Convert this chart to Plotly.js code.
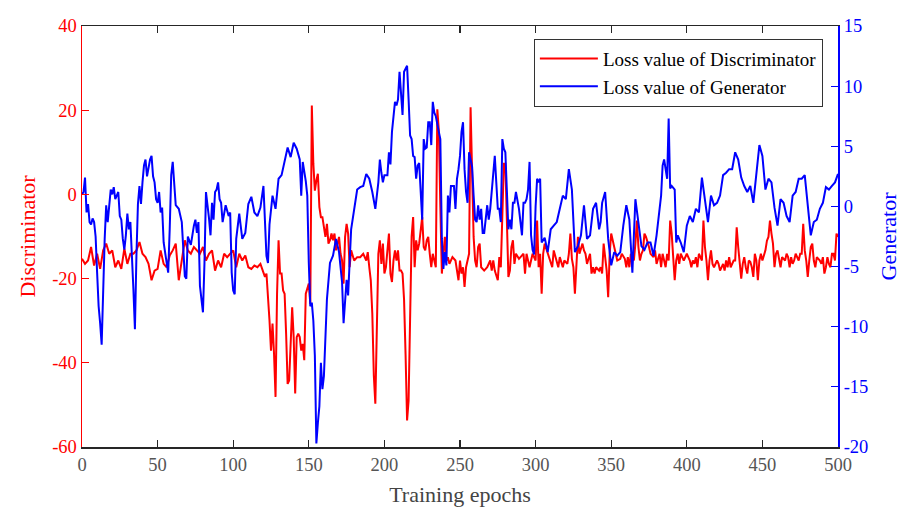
<!DOCTYPE html>
<html>
<head>
<meta charset="utf-8">
<script src="https://cdn.plot.ly/plotly-3.0.1.min.js"></script>
<style>html,body{margin:0;padding:0;background:#fff;}#chart{width:902px;height:508px;}</style>
</head>
<body>
<div id="chart"></div>
<script>
// Discriminator loss: [epoch, value]
const discA = [[0,-15.3],[2,-16.5],[4,-15.7],[6,-12.5],[8,-16.9],[10,-14.1],[12,-17.7],[14,-13.3],[16,-11.7],[18,-14.1],[20,-13.3],[22,-17.3],[24,-15.7],[26,-17.7],[28,-12.9],[30,-16.5],[32,-14.1],[34,-14.1],[36,-13.3],[38,-11.3],[40,-14.1],[42,-14.9],[44,-16.5],[46,-20.4],[48,-18.1],[50,-17.7],[52,-13.3],[54,-16.5],[56,-17.3],[58,-14.5],[60,-13.3],[62,-11.7],[64,-20.4],[66,-15.7],[68,-10.9],[70,-13.3],[72,-14.1],[74,-12.5],[76,-13.3],[78,-14.1],[80,-12.5],[82,-15.7],[84,-14.1],[86,-13.3],[88,-18.1],[90,-15.7],[92,-17.3],[94,-14.1],[96,-14.9],[98,-14.1],[100,-13.3],[102,-17.3],[104,-14.1]];
const discB = [[106,-15.7],[108,-14.5],[110,-17.3],[112,-17.7],[114,-16.9],[116,-17.3],[118,-16.5],[120,-18.8],[121,-19.6],[122,-18.8],[123,-23.6],[124,-29.9],[125,-37.1],[126,-30.7],[127,-37.8],[128,-48.1],[129,-23.6],[130,-10.9],[131,-18.8],[132,-18.8],[133,-22.8],[134,-23.6],[135,-33.1],[136,-45.0],[137,-44.2],[138,-33.1],[139,-26.8],[140,-33.9],[141,-47.3],[142,-33.9],[143,-33.1],[144,-33.9],[145,-37.1],[146,-35.5],[147,-39.4],[148,-23.6],[150,-21.2],[151,-26.0],[152,21.1],[153,7.3],[154,0.9],[155,3.3],[156,4.9],[157,-3.0],[158,-5.4],[159,-5.4],[160,-7.8],[161,-10.1],[162,-7.0],[163,-11.7],[164,-10.9],[165,-9.3],[166,-10.9],[167,-9.3],[168,-13.3],[170,-10.1],[171,-14.1],[172,-15.7],[173,-21.2],[174,-10.1],[175,-7.0],[176,-9.3],[177,-17.3],[178,-13.3],[180,-15.7],[182,-14.9],[184,-14.9],[186,-14.1],[188,-15.7],[189,-13.7],[190,-17.3],[191,-20.4],[192,-28.3],[193,-43.0],[194,-49.7],[195,-33.0],[196,-14.1],[197,-10.9],[198,-16.5],[199,-11.7],[200,-18.8],[201,-17.3],[202,-13.3],[203,-9.3],[204,-18.8],[205,-20.8],[206,-15.7],[207,-13.3],[208,-15.7],[209,-13.3],[210,-18.1],[211,-18.1],[212,-18.8],[213,-25.0],[214,-38.0],[215,-53.7],[216,-49.0],[217,-30.0],[218,-10.0],[219,-5.4],[220,-17.3],[221,-10.9],[222,-13.3],[223,-11.7],[224,-8.0],[225,-5.4],[226,-12.5],[227,-13.3],[228,-10.9],[229,-10.1],[230,-14.1],[231,-17.3],[232,-14.1],[233,-15.7],[234,-17.3],[235,20.2],[236,15.2],[237,-3.0],[238,-18.8],[239,-14.1],[240,-10.1],[241,-15.7],[242,-14.9],[243,-16.5],[245,-14.9],[247,-15.7],[249,-20.4],[250,-15.7],[251,-18.8],[252,-17.3],[253,-22.0],[254,-17.3],[256,-14.1],[257,20.7]];
const discC = [[258,1.7],[259,-10.1],[260,-15.7],[261,-17.3],[262,-12.5],[263,-11.7],[264,-17.3],[266,-18.1],[268,-17.3],[270,-15.7],[271,-18.1],[272,-15.7],[273,-18.1],[275,-20.4],[276,-14.9],[277,-17.3],[278,-5.0],[279,7.3],[280,7.3],[281,-6.2],[282,-19.6],[283,-18.1],[284,-12.5],[285,-10.9],[286,-16.5],[287,-14.1],[289,-15.3],[291,-14.5],[292,-14.1],[293,-18.8],[294,-14.1],[295,-15.7],[296,-17.3],[297,-15.7],[298,-14.1],[300,-15.7],[301,-6.2],[302,-17.3],[303,-14.1],[304,-23.6],[305,-14.1],[306,-11.7],[308,-14.1],[310,-16.5],[311,-17.3],[312,-13.3],[314,-15.7],[315,-17.3],[316,-14.9],[318,-17.3],[319,-15.7],[321,-16.5],[322,-14.1],[323,-9.3],[324,-15.3],[325,-17.3],[326,-23.6],[327,-15.7],[328,-10.1],[329,-14.1],[331,-11.7],[332,-13.3],[333,-14.1],[334,-16.5],[335,-14.9],[336,-14.1],[337,-18.8],[338,-17.3],[339,-18.8],[340,-17.3],[342,-18.1],[343,-17.3],[344,-18.8],[345,-11.7],[346,-14.9],[347,-18.1],[348,-24.4],[349,-14.1],[350,-9.3],[351,-10.9],[353,-14.1],[354,-15.7],[356,-15.3],[357,-14.1],[359,-15.3],[360,-17.3],[361,-14.9],[362,-17.3],[363,-14.1],[365,-15.7],[366,-11.7],[367,-6.2],[368,-12.5],[369,-15.7],[370,-14.1],[371,-13.3],[372,-9.3],[373,-10.1],[375,-12.5],[376,-14.1],[378,-14.9],[379,-13.3],[380,-16.5],[382,-14.1],[383,-17.3],[384,-14.1],[386,-17.3],[387,-14.1],[388,-15.7],[389,-6.2],[390,-9.3],[391,-14.1],[392,-20.4],[393,-15.7],[394,-14.1],[395,-16.5],[396,-14.1],[398,-15.7],[400,-14.1],[402,-15.7]];
const discD = [[403,-17.3],[404,-15.7],[405,-16.5],[406,-14.9],[407,-17.3],[408,-14.1],[410,-15.7],[411,-6.2],[412,-12.5],[413,-15.7],[414,-20.4],[415,-15.7],[416,-13.3],[417,-16.5],[418,-17.3],[420,-15.7],[421,-16.5],[422,-18.1],[424,-16.5],[425,-18.1],[426,-15.7],[427,-17.3],[428,-14.9],[429,-17.3],[431,-15.7],[432,-15.7],[433,-7.8],[434,-12.5],[435,-15.7],[436,-20.0],[437,-16.5],[438,-14.9],[439,-17.3],[440,-18.8],[441,-15.7],[442,-16.0],[443,-17.3],[444,-19.6],[445,-14.1],[446,-15.7],[447,-20.4],[448,-15.7],[449,-14.1],[450,-15.7],[452,-13.3],[453,-11.0],[454,-10.1],[455,-6.2],[456,-9.3],[457,-11.7],[458,-17.3],[459,-14.1],[460,-13.3],[461,-15.7],[462,-17.3],[463,-14.9],[465,-15.7],[466,-14.1],[467,-14.9],[468,-17.3],[469,-14.9],[470,-16.5],[471,-15.7],[472,-14.1],[474,-15.7],[475,-14.1],[476,-14.1],[477,-7.0],[478,-13.3],[479,-15.7],[480,-19.6],[481,-15.7],[482,-12.5],[483,-11.7],[484,-15.7],[485,-17.3],[486,-14.9],[488,-15.7],[489,-16.5],[490,-14.9],[491,-18.8],[492,-17.3],[493,-14.9],[494,-16.5],[495,-17.3],[496,-14.1],[497,-14.1],[498,-15.7],[499,-9.3],[500,-10.1]];

// Generator loss: [epoch, value]
const genA = [[0,1.0],[1,1.2],[2,2.4],[3,-0.5],[4,0.2],[5,-1.3],[6,-1.5],[7,-1.0],[8,-1.3],[9,-2.5],[10,-5.5],[11,-8.3],[12,-9.7],[13,-11.5],[15,-2.7],[16,0.1],[17,-1.3],[18,0.2],[19,1.4],[20,1.0],[21,1.6],[22,0.6],[24,1.2],[25,-0.8],[26,-1.1],[27,-2.7],[28,-3.6],[29,-2.4],[30,-0.6],[31,-1.9],[32,-1.3],[34,-6.9],[35,-10.2],[36,-4.1],[37,0.2],[38,1.7],[39,0.2],[40,2.0],[41,3.4],[42,3.9],[43,2.5],[45,3.9],[46,4.2],[47,2.5],[48,2.0],[49,0.6],[50,0.3],[51,1.2],[52,-0.5],[53,-0.1],[54,-3.0],[56,-4.7],[57,-5.5]];
const genB = [[58,-1.9],[59,2.6],[60,3.7],[62,0.1],[64,-0.2],[66,-1.3],[68,-5.8],[69,-6.0],[70,-2.5],[72,-3.2],[74,-1.6],[75,-1.1],[76,-2.2],[77,-1.3],[78,-6.6],[79,-8.0],[80,-8.8],[81,-4.7],[82,1.2],[84,-1.0],[85,-2.4],[86,0.3],[87,-1.1],[88,1.2],[89,1.4],[90,2.0],[91,0.6],[92,0.3],[93,-1.3],[95,0.1],[97,-0.8],[98,-0.5],[99,-5.5],[100,-7.0],[101,-7.3],[102,-2.7],[104,-0.6]];
const genC = [[106,-2.7],[108,-2.2],[110,0.2],[112,0.8],[114,-0.5],[116,-0.8],[118,-0.1],[120,1.7],[122,-4.1],[123,-4.7],[124,-1.5],[126,0.9],[128,-0.2],[130,2.3],[132,2.6],[134,3.7],[136,4.9],[138,4.1],[140,5.3],[142,4.8],[144,3.9],[145,0.9],[146,3.7],[148,2.1],[149,0.9],[150,-4.7],[151,-8.3],[152,-8.0],[153,-9.5],[154,-12.4],[155,-19.7],[156,-18.0],[157,-16.6],[158,-13.0],[159,-15.2],[160,-14.1],[162,-7.7],[164,-4.7],[166,-4.1],[168,-2.7],[170,-3.8],[172,-6.3],[173,-9.7],[175,-6.1],[176,-7.4],[178,-1.9],[180,-0.2],[182,1.4],[184,1.6],[186,1.7],[188,2.7],[190,2.3],[192,1.2],[194,-0.2],[196,2.0],[197,3.9],[198,2.8],[199,2.0],[200,2.6],[202,2.6],[203,4.5],[204,3.5]];
const genD = [[205,6.2],[206,7.8],[207,8.7],[208,8.4],[209,8.9],[210,11.2],[211,8.9],[212,7.6],[213,11.2],[215,11.7],[216,8.9],[217,5.9],[218,5.6],[219,4.2],[220,4.1],[221,2.3],[222,3.4],[223,3.6],[225,-1.1],[226,5.6],[227,4.8],[228,4.9],[229,7.0],[230,7.0],[231,5.1],[232,8.7],[233,7.8],[234,7.5],[236,6.2],[237,5.6],[238,-2.7],[239,-5.2],[240,-3.8],[241,-4.9],[242,0.9],[243,-0.5],[244,1.7],[246,1.7],[247,-0.2],[248,2.3],[249,3.1],[250,4.2],[251,6.2],[252,7.0],[253,3.1],[254,1.2],[255,0.3],[256,4.5],[257,3.9],[258,3.3],[259,0.9],[260,-1.1],[261,-1.3],[262,0.1],[263,-1.1],[264,-0.2],[265,-2.2],[266,-2.2],[268,0.1],[269,-1.1],[270,-0.2],[271,1.4],[272,2.6],[273,4.2],[274,2.0],[275,-0.2],[276,-0.2],[277,-1.3],[278,5.6],[279,4.8],[280,4.5],[281,1.4],[282,-1.9],[283,-1.1],[284,-1.9],[285,0.3],[286,0.3],[287,1.2],[288,0.5],[289,-0.2],[290,-1.3],[291,-2.4],[292,0.3],[293,0.3],[294,0.6],[295,1.4],[296,3.7],[297,-2.4],[298,-3.6],[299,-4.0],[300,0.0],[301,2.3],[302,2.0],[303,2.3],[304,-3.0]];
const genE = [[306,-2.6],[308,-3.8],[310,-1.9],[312,-1.6],[314,-1.3],[316,-0.2],[318,0.9],[320,0.6],[322,3.1],[324,1.4],[326,-3.8],[328,-3.3],[330,-2.4],[332,0.1],[334,-2.7],[336,-2.4],[338,-0.2],[340,0.3],[342,-1.9],[343,-1.3],[344,0.3],[346,1.2],[348,-2.7],[350,-4.9],[352,-3.8],[354,-4.1],[356,-3.8],[358,-1.6],[360,0.1],[362,-1.1],[364,-5.5],[366,0.6],[368,-1.3],[370,-3.3],[372,-3.6],[374,-3.0],[376,-3.0],[378,-4.1],[380,-2.4],[382,-0.2],[383,0.9],[384,3.4],[385,3.9],[387,2.3],[388,7.3],[389,1.5],[390,1.7],[392,1.4],[393,-3.0],[394,-2.4],[396,-3.0],[398,-3.8],[400,-1.6],[402,-0.8]];
const genF = [[404,-1.3],[406,-0.2],[408,-0.5],[410,2.4],[412,0.6],[414,-1.3],[416,0.9],[418,0.1],[420,0.3],[422,0.9],[424,2.6],[426,2.8],[428,3.1],[430,3.1],[432,4.5],[434,3.9],[436,2.4],[438,1.7],[440,1.2],[442,1.7],[444,0.3],[446,2.8],[448,5.1],[450,4.2],[452,1.4],[454,2.3],[456,2.0],[458,-0.1],[460,-1.6],[462,0.6],[464,0.3],[466,-0.8],[468,-1.3],[470,0.9],[472,1.2],[474,2.3],[476,2.3],[478,2.6],[480,-0.2],[482,-2.4],[484,-1.3],[486,-1.1],[488,-0.2],[490,0.3],[492,1.6],[494,1.4],[496,1.7],[498,2.0],[500,2.7]];

const xTicks = [0, 50, 100, 150, 200, 250, 300, 350, 400, 450, 500];
const leftTicks = [-60, -40, -20, 0, 20, 40];
const rightTicks = [-20, -15, -10, -5, 0, 5, 10, 15];
const seriesNames = ['Loss value of Discriminator', 'Loss value of Generator'];

const disc = discA.concat(discB, discC, discD);
const gen = genA.concat(genB, genC, genD, genE, genF);

const SERIF = '"Liberation Serif", "Times New Roman", serif';
const RED = '#ff0000', BLUE = '#0000ff';

const traces = [
  {x: disc.map(p => p[0]), y: disc.map(p => p[1]), type: 'scatter', mode: 'lines',
   name: seriesNames[0], yaxis: 'y', line: {color: RED, width: 2}},
  {x: gen.map(p => p[0]), y: gen.map(p => p[1]), type: 'scatter', mode: 'lines',
   name: seriesNames[1], yaxis: 'y2', line: {color: BLUE, width: 2}}
];

const layout = {
  width: 902, height: 508,
  margin: {l: 82, r: 64, t: 26, b: 61, pad: 0},
  paper_bgcolor: '#ffffff', plot_bgcolor: '#ffffff',
  showlegend: true,
  legend: {x: 0.98, xanchor: 'right', y: 0.97, yanchor: 'top',
    bgcolor: '#ffffff', bordercolor: '#333333', borderwidth: 1,
    itemwidth: 58,
    font: {family: SERIF, size: 19, color: '#000000'}, tracegroupgap: 0},
  xaxis: {range: [0, 500], tickvals: xTicks, ticktext: xTicks.map(String),
    ticks: 'inside', ticklen: 7, tickwidth: 1.2, tickcolor: '#262626',
    showline: true, linecolor: '#262626', linewidth: 1.5, mirror: 'ticks',
    showgrid: false, zeroline: false,
    tickfont: {family: SERIF, size: 18.5, color: '#555555'},
    title: {text: 'Training epochs', font: {family: SERIF, size: 22, color: '#444444'}, standoff: 13}},
  yaxis: {range: [-60, 40], tickvals: leftTicks, ticktext: leftTicks.map(String),
    ticks: 'inside', ticklen: 7, tickwidth: 1.2, tickcolor: RED,
    showline: true, linecolor: RED, linewidth: 1.5,
    showgrid: false, zeroline: false,
    tickfont: {family: SERIF, size: 18.5, color: RED},
    title: {text: 'Discriminator', font: {family: SERIF, size: 22, color: RED}, standoff: 10}},
  yaxis2: {range: [-20, 15], tickvals: rightTicks, ticktext: rightTicks.map(String),
    overlaying: 'y', side: 'right',
    ticks: 'inside', ticklen: 7, tickwidth: 1.2, tickcolor: BLUE,
    showline: true, linecolor: BLUE, linewidth: 2,
    showgrid: false, zeroline: false,
    tickfont: {family: SERIF, size: 18.5, color: BLUE},
    title: {text: 'Generator', font: {family: SERIF, size: 22, color: BLUE}, standoff: 13}}
};

Plotly.newPlot('chart', traces, layout, {displayModeBar: false, staticPlot: true});
</script>
</body>
</html>
